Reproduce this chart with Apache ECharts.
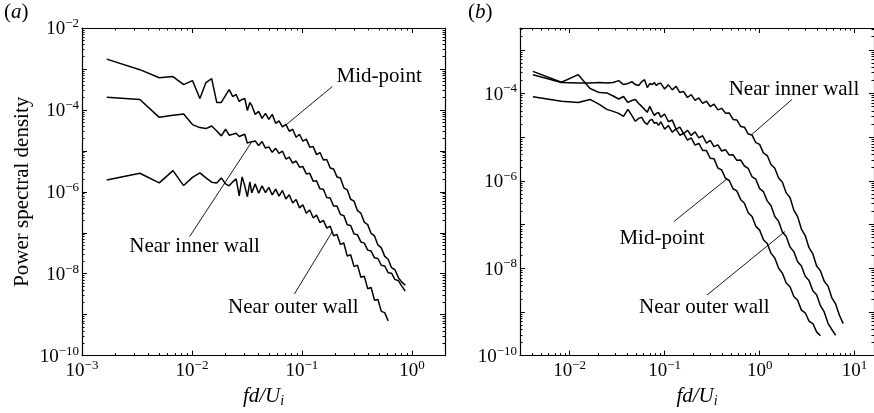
<!DOCTYPE html>
<html>
<head>
<meta charset="utf-8">
<title>Power spectral density</title>
<script src="https://cdn.jsdelivr.net/npm/echarts@6.0.0/dist/echarts.min.js"></script>
<style>
  html, body { margin: 0; padding: 0; background: #fff; }
  #chart { width: 874px; height: 413px; }
</style>
</head>
<body>
<div id="chart"></div>
<script>
// ---- panel (a) ----
var freqA = [0.00168, 0.00336, 0.00504, 0.00672, 0.0084, 0.0101, 0.0118, 0.0134, 0.0151, 0.0168,
  0.0185, 0.0202, 0.0218, 0.0235, 0.0252, 0.0269, 0.0286, 0.0302, 0.0319, 0.0336,
  0.035, 0.0376, 0.0404, 0.0434, 0.0466, 0.05, 0.0537, 0.0577, 0.0619, 0.0665,
  0.0715, 0.0767, 0.0824, 0.0885, 0.0951, 0.102, 0.1096, 0.1178, 0.1265, 0.1358,
  0.1459, 0.1567, 0.1683, 0.1807, 0.1941, 0.2084, 0.2239, 0.2404, 0.2582, 0.2773,
  0.2979, 0.3199, 0.3436, 0.369, 0.3963, 0.4256, 0.4571, 0.4909, 0.5272, 0.5662,
  0.6081, 0.6531, 0.7015, 0.7534, 0.8091, 0.869];
var midA = [1.74e-3, 9.6e-4, 6.1e-4, 6.5e-4, 4.15e-4, 5.2e-4, 1.9e-4, 4.65e-4, 5.8e-4, 1.52e-4,
  1.52e-4, 2.25e-4, 3.14e-4, 2.12e-4, 2.38e-4, 1.61e-4, 1.8e-4, 1.9e-4, 9.7e-5, 1.52e-4,
  1.285e-4, 7.78e-5, 9.2e-5, 6.22e-5, 8.22e-5, 5.89e-5, 7.78e-5, 4.71e-5, 5.41e-5, 3.87e-5,
  4.45e-5, 3.01e-5, 3.37e-5, 2.15e-5, 2.55e-5, 1.72e-5, 1.93e-5, 1.23e-5, 1.27e-5, 8.1e-6,
  9.1e-6, 5.97e-6, 6.14e-6, 3.82e-6, 3.6e-6, 2.31e-6, 2.18e-6, 1.25e-6, 1.12e-6, 6.58e-7,
  5.89e-7, 3.46e-7, 3.01e-7, 1.82e-7, 1.58e-7, 9.6e-8, 8.34e-8, 5.05e-8, 4.27e-8, 2.65e-8,
  2.25e-8, 1.4e-8, 1.25e-8, 8.0e-9, 6.22e-9, 5.26e-9];
var innerA = [2.04e-4, 1.8e-4, 6.58e-5, 7.36e-5, 7.91e-5, 4.38e-5, 3.7e-5, 3.5e-5, 4.05e-5, 3.06e-5,
  2.32e-5, 3.37e-5, 2.41e-5, 2.55e-5, 2.69e-5, 2.24e-5, 2.41e-5, 2.55e-5, 1.54e-5, 1.63e-5,
  1.63e-5, 1.75e-5, 1.35e-5, 1.69e-5, 1.17e-5, 1.25e-5, 9.2e-6, 1.15e-5, 8.7e-6, 9.9e-6,
  6.31e-6, 7.05e-6, 5.05e-6, 5.65e-6, 3.99e-6, 4.13e-6, 2.73e-6, 2.82e-6, 1.82e-6, 1.85e-6,
  1.18e-6, 1.16e-6, 7.23e-7, 7.08e-7, 4.5e-7, 4.48e-7, 2.8e-7, 2.62e-7, 1.57e-7, 1.5e-7,
  9.4e-8, 8.9e-8, 5.97e-8, 5.58e-8, 3.76e-8, 3.57e-8, 2.44e-8, 2.35e-8, 1.61e-8, 1.54e-8,
  1.06e-8, 1.03e-8, 7.16e-9, 6.81e-9, 4.98e-9, 3.77e-9];
var outerA = [1.95e-6, 2.84e-6, 1.65e-6, 3.28e-6, 1.42e-6, 2.25e-6, 2.89e-6, 2.18e-6, 1.72e-6, 1.63e-6,
  2.18e-6, 1.56e-6, 1.4e-6, 1.75e-6, 2.07e-6, 8.0e-7, 2.31e-6, 1.4e-6, 7.57e-7, 1.75e-6,
  9.46e-7, 1.56e-6, 9.2e-7, 1.4e-6, 9.57e-7, 1.285e-6, 8.36e-7, 1.16e-6, 7.87e-7, 1.08e-6,
  6.68e-7, 8.45e-7, 5.32e-7, 6.47e-7, 4.05e-7, 4.84e-7, 2.99e-7, 3.6e-7, 2.32e-7, 2.69e-7,
  1.76e-7, 2.0e-7, 1.3e-7, 1.44e-7, 8.43e-8, 9.12e-8, 5.19e-8, 5.6e-8, 2.69e-8, 2.9e-8,
  1.49e-8, 1.62e-8, 8.22e-9, 8.7e-9, 4.31e-9, 4.6e-9, 2.25e-9, 2.35e-9, 1.2e-9, 1.12e-9,
  7.05e-10];

// ---- panel (b) ----
var freqB = [0.0041, 0.0082, 0.0123, 0.0164, 0.0205, 0.0246, 0.0287, 0.0328, 0.0369, 0.041,
  0.0451, 0.0492, 0.0533, 0.0574, 0.0615, 0.0656, 0.0697, 0.0738, 0.0779, 0.082, 0.0861,
  0.0912, 0.1, 0.1096, 0.1202, 0.1318, 0.1445, 0.1585, 0.1738, 0.1905, 0.2089,
  0.2291, 0.2512, 0.2754, 0.302, 0.3311, 0.3631, 0.3981, 0.4365, 0.4786, 0.5248,
  0.5754, 0.631, 0.6918, 0.7586, 0.8318, 0.912, 1, 1.096, 1.202, 1.318,
  1.445, 1.585, 1.738, 1.905, 2.089, 2.291, 2.512, 2.754, 3.02, 3.311,
  3.631, 3.981, 4.365, 4.786, 5.248, 5.754, 6.31, 6.918, 7.586];
var innerB = [2.7e-4, 1.78e-4, 1.73e-4, 1.73e-4, 1.78e-4, 1.73e-4, 1.78e-4, 1.97e-4, 1.6e-4, 1.69e-4,
  1.87e-4, 1.6e-4, 1.52e-4, 1.87e-4, 2.08e-4, 1.37e-4, 1.69e-4, 1.6e-4, 1.78e-4, 1.52e-4, 1.69e-4,
  1.71e-4, 1.27e-4, 1.58e-4, 1.21e-4, 1.47e-4, 1.05e-4, 1.11e-4, 8.11e-5, 9.44e-5, 6.97e-5,
  7.91e-5, 5.93e-5, 6.71e-5, 5.04e-5, 5.74e-5, 4.22e-5, 4.58e-5, 3.55e-5, 3.59e-5, 2.55e-5,
  2.48e-5, 1.76e-5, 1.69e-5, 1.18e-5, 1.12e-5, 7.53e-6, 6.86e-6, 4.38e-6, 3.8e-6, 2.37e-6,
  1.95e-6, 1.16e-6, 9.25e-7, 5.31e-7, 4.15e-7, 2.14e-7, 1.52e-7, 7.91e-8, 5.6e-8, 2.95e-8,
  2.14e-8, 1.12e-8, 8.77e-9, 5.04e-9, 3.9e-9, 2.1e-9, 1.52e-9, 8.41e-10, 5.4e-10];
var outerB = [3.21e-4, 1.81e-4, 2.7e-4, 1.3e-4, 1.05e-4, 1.03e-4, 8.77e-5, 7.5e-5, 8.55e-5, 6.24e-5,
  6.93e-5, 7.31e-5, 5.93e-5, 5.07e-5, 4.33e-5, 3.7e-5, 5.07e-5, 3.9e-5, 3.16e-5, 3.51e-5, 3.7e-5,
  2.88e-5, 3.4e-5, 2.26e-5, 2.48e-5, 1.53e-5, 1.7e-5, 1.2e-5, 1.44e-5, 1.09e-5, 1.33e-5,
  9.64e-6, 1.08e-5, 7.34e-6, 8.45e-6, 6.08e-6, 6.68e-6, 4.83e-6, 5.18e-6, 3.9e-6, 3.96e-6,
  2.95e-6, 3.0e-6, 2.19e-6, 1.92e-6, 1.24e-6, 1.09e-6, 6.65e-7, 5.65e-7, 3.49e-7, 2.7e-7,
  1.53e-7, 1.18e-7, 6.76e-8, 5.31e-8, 3.05e-8, 2.4e-8, 1.4e-8, 1.12e-8, 6.52e-9, 5.25e-9,
  3.06e-9, 2.47e-9, 1.39e-9, 1.0e-9, 5.48e-10, 3.96e-10, 2.92e-10];
var midB = [8.41e-5, 6.68e-5, 6.24e-5, 7.31e-5, 5.62e-5, 4.33e-5, 3.9e-5, 3.51e-5, 3.0e-5, 4.33e-5,
  3.16e-5, 2.31e-5, 2.7e-5, 2.85e-5, 2.19e-5, 1.97e-5, 2.43e-5, 2.56e-5, 2.08e-5, 2.19e-5, 1.87e-5,
  2.26e-5, 1.53e-5, 1.85e-5, 1.3e-5, 1.55e-5, 1.11e-5, 1.23e-5, 8.55e-6, 9.6e-6, 6.58e-6,
  7.19e-6, 4.99e-6, 4.93e-6, 3.3e-6, 3.23e-6, 1.97e-6, 1.79e-6, 1.15e-6, 1.02e-6, 6.61e-7,
  5.89e-7, 3.76e-7, 3.08e-7, 1.86e-7, 1.53e-7, 9.1e-8, 7.46e-8, 4.49e-8, 3.68e-8, 2.19e-8,
  1.71e-8, 9.95e-9, 7.69e-9, 4.61e-9, 3.76e-9, 2.25e-9, 1.85e-9, 1.1e-9, 9.55e-10, 6.15e-10,
  5.42e-10, 3.49e-10, 2.86e-10];

// ---- axes ----
var xMajorA = [1e-3, 1e-2, 1e-1, 1];
var xMajorB = [1e-2, 1e-1, 1, 10];
var yMajorA = [1e-10, 1e-9, 1e-8, 1e-7, 1e-6, 1e-5, 1e-4, 1e-3, 1e-2];
var yLabelA = [1e-10, 1e-8, 1e-6, 1e-4, 1e-2];
var yMajorB = [1e-10, 1e-9, 1e-8, 1e-7, 1e-6, 1e-5, 1e-4, 1e-3];
var yLabelB = [1e-10, 1e-8, 1e-6, 1e-4];

// annotation text: [label, x, y]; leader: [x1, y1, x2, y2]
var notesA = [['Mid-point', 0.504, 6.5e-4], ['Near inner wall', 0.01057, 4.65e-8], ['Near outer wall', 0.0836, 1.46e-9]];
var leadersA = [[0.189, 3.72e-4, 0.0708, 4.2e-5], [0.00953, 8.1e-8, 0.0348, 1.63e-5], [0.0853, 3.18e-9, 0.189, 1.07e-7]];
var notesB = [['Near inner wall', 2.3, 1.23e-4], ['Mid-point', 0.0938, 4.81e-8], ['Near outer wall', 0.262, 1.26e-9]];
var leadersB = [[2.19, 7.31e-5, 0.811, 1.11e-5], [0.125, 1.17e-7, 0.453, 1.11e-6], [0.279, 2.43e-9, 1.85, 6.93e-8]];

var FONT = 'Liberation Serif';

function minorTicks(lo, hi) {
  var out = [];
  for (var e = -11; e <= 2; e++) {
    for (var m = 2; m <= 9; m++) {
      var v = m * Math.pow(10, e);
      if (v > lo && v < hi) out.push(v);
    }
  }
  return out;
}

function pow10(v) {
  var n = Math.round(Math.log(v) / Math.LN10);
  return '{b|10}{s|' + (n < 0 ? '\u2212' + (-n) : n) + '}';
}

var tickRich = {
  b: { fontFamily: FONT, fontSize: 19, color: '#000', lineHeight: 22, verticalAlign: 'bottom' },
  s: { fontFamily: FONT, fontSize: 13, color: '#000', lineHeight: 13, verticalAlign: 'top' }
};

function makeAxis(grid, min, max, pos, ticks, len, opts) {
  opts = opts || {};
  return {
    type: 'log', logBase: 10, gridIndex: grid, min: min, max: max, position: pos,
    axisLine: { show: opts.line !== false, onZero: false, lineStyle: { color: '#000', width: 1.2 } },
    axisTick: { show: true, inside: true, length: len, customValues: ticks, lineStyle: { color: '#000', width: 1 } },
    axisLabel: opts.labels ? { show: true, customValues: opts.labels, formatter: pow10, rich: tickRich, margin: opts.margin || 3 } : { show: false },
    splitLine: { show: false },
    minorTick: { show: false },
    name: opts.name || '',
    nameLocation: 'middle',
    nameGap: opts.nameGap || 0,
    nameTextStyle: opts.nameStyle || {},
    silent: true
  };
}

var xNameStyle = {
  rich: {
    i: { fontFamily: FONT, fontStyle: 'italic', fontSize: 21, color: '#000', lineHeight: 24 },
    sub: { fontFamily: FONT, fontStyle: 'italic', fontSize: 14, color: '#000', lineHeight: 24, verticalAlign: 'bottom' }
  }
};
var xName = '{i|fd/U}{sub|i}';

function xAxesFor(grid, min, max, major) {
  var minor = minorTicks(min, max);
  return [
    makeAxis(grid, min, max, 'bottom', major, 5, { labels: major, margin: 3, name: xName, nameGap: 27, nameStyle: xNameStyle }),
    makeAxis(grid, min, max, 'bottom', minor, 2.5, { line: false }),
    makeAxis(grid, min, max, 'top', major, 5, {}),
    makeAxis(grid, min, max, 'top', minor, 2.5, { line: false })
  ];
}

function yAxesFor(grid, min, max, major, labels, name) {
  var minor = minorTicks(min, max);
  return [
    makeAxis(grid, min, max, 'left', major, 5, {
      labels: labels, margin: 3, name: name, nameGap: 49,
      nameStyle: { fontFamily: FONT, fontSize: 21, color: '#000' }
    }),
    makeAxis(grid, min, max, 'left', minor, 2.5, { line: false }),
    makeAxis(grid, min, max, 'right', major, 5, {}),
    makeAxis(grid, min, max, 'right', minor, 2.5, { line: false })
  ];
}

function pairs(xs, ys) {
  return ys.map(function (y, i) { return [xs[i], y]; });
}

function curve(name, xs, ys, xi, yi, note, leader) {
  return {
    name: name, type: 'line', xAxisIndex: xi, yAxisIndex: yi,
    data: pairs(xs, ys), showSymbol: false, symbol: 'none', silent: true,
    lineStyle: { color: '#000', width: 1.5 },
    markLine: {
      silent: true, symbol: ['none', 'none'], label: { show: false },
      lineStyle: { color: '#000', width: 0.9, type: 'solid' },
      data: [[{ coord: [leader[0], leader[1]] }, { coord: [leader[2], leader[3]] }]]
    },
    markPoint: {
      silent: true, symbol: 'rect', symbolSize: 1, itemStyle: { color: 'rgba(0,0,0,0)' },
      label: { show: true, position: 'inside', formatter: note[0], color: '#000', fontFamily: FONT, fontSize: 21 },
      data: [{ coord: [note[1], note[2]] }]
    }
  };
}

var chart = echarts.init(document.getElementById('chart'), null, { renderer: 'canvas' });
chart.setOption({
  animation: false,
  backgroundColor: '#fff',
  grid: [
    { left: 82, right: 429, top: 28, bottom: 55 },
    { left: 520, right: 0, top: 28, bottom: 55 }
  ],
  xAxis: xAxesFor(0, 0.001, 2, xMajorA).concat(xAxesFor(1, 0.003, 16, xMajorB)),
  yAxis: yAxesFor(0, 1e-10, 1e-2, yMajorA, yLabelA, 'Power spectral density')
    .concat(yAxesFor(1, 1e-10, 3.16e-3, yMajorB, yLabelB, '')),
  graphic: [
    { type: 'text', left: 4, top: 2, style: { text: '({i|a})', font: '21px "Liberation Serif"', fill: '#000',
      rich: { i: { fontStyle: 'italic', fontFamily: FONT, fontSize: 21, fill: '#000' } } } },
    { type: 'text', left: 468, top: 2, style: { text: '({i|b})', font: '21px "Liberation Serif"', fill: '#000',
      rich: { i: { fontStyle: 'italic', fontFamily: FONT, fontSize: 21, fill: '#000' } } } }
  ],
  series: [
    curve('Mid-point (a)', freqA, midA, 0, 0, notesA[0], leadersA[0]),
    curve('Near inner wall (a)', freqA, innerA, 0, 0, notesA[1], leadersA[1]),
    curve('Near outer wall (a)', freqA, outerA, 0, 0, notesA[2], leadersA[2]),
    curve('Near inner wall (b)', freqB, innerB, 4, 4, notesB[0], leadersB[0]),
    curve('Mid-point (b)', freqB, midB, 4, 4, notesB[1], leadersB[1]),
    curve('Near outer wall (b)', freqB, outerB, 4, 4, notesB[2], leadersB[2])
  ]
});
</script>
</body>
</html>
